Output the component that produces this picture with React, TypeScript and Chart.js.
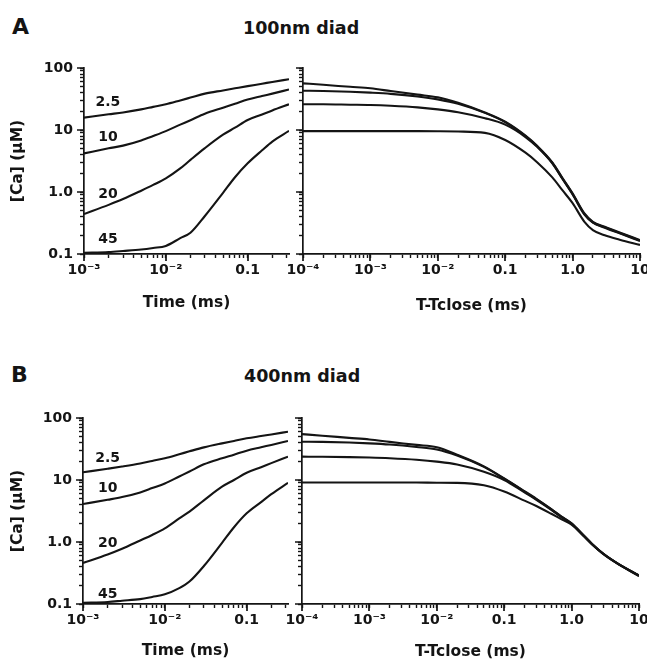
import React, { useEffect, useRef } from 'react';
import { Chart, registerables } from 'chart.js';

Chart.register(...registerables);

const INK = '#141414';
const FONT = "'DejaVu Sans', 'Liberation Sans', Arial, sans-serif";

// ---------- tick labels ----------
const concTickValues = [0.1, 1, 10, 100];
const concTickLabels = ['0.1', '1.0', '10', '100'];
const timeTickValues = [0.001, 0.01, 0.1];
const timeTickLabels = ['10⁻³', '10⁻²', '0.1'];
const closeTickValues = [0.0001, 0.001, 0.01, 0.1, 1, 10];
const closeTickLabels = ['10⁻⁴', '10⁻³', '10⁻²', '0.1', '1.0', '10'];

// ---------- series names (curve labels) ----------
const curveNames = ['2.5', '10', '20', '45'];

// ---------- left panels: Time (ms) ----------
const timeMs = [0.001, 0.002, 0.003, 0.005, 0.007, 0.01, 0.015, 0.02, 0.03, 0.05, 0.07, 0.1, 0.15, 0.2, 0.32];

const a100_25 = [15.8, 17.9, 19.2, 21.5, 23.6, 26, 30, 33.3, 38.6, 43.5, 47, 51, 55.8, 59.6, 66];
const a100_10 = [4.2, 5.06, 5.6, 6.8, 8.0, 9.6, 12.2, 14.4, 18.3, 22.9, 26.5, 31, 35.3, 38.6, 45];
const a100_20 = [0.44, 0.62, 0.77, 1.05, 1.3, 1.66, 2.4, 3.3, 5.1, 8.4, 10.9, 14.5, 17.8, 20.7, 26];
const a100_45 = [0.105, 0.108, 0.112, 0.118, 0.125, 0.135, 0.18, 0.22, 0.41, 0.97, 1.73, 2.9, 4.7, 6.5, 9.7];

const b400_25 = [13.3, 15.2, 16.5, 18.5, 20.3, 22.4, 26, 29, 33.6, 39, 42.7, 47, 51.2, 54.3, 60];
const b400_10 = [4.1, 4.8, 5.3, 6.3, 7.4, 8.8, 11.4, 13.7, 17.9, 22.4, 25.6, 29.7, 33.7, 36.8, 42.6];
const b400_20 = [0.46, 0.63, 0.78, 1.06, 1.3, 1.66, 2.4, 3.1, 4.7, 7.8, 10, 13.1, 16.1, 18.7, 23.8];
const b400_45 = [0.105, 0.108, 0.113, 0.12, 0.13, 0.143, 0.18, 0.23, 0.41, 0.97, 1.73, 2.9, 4.4, 5.9, 9.0];

// ---------- right panels: T-Tclose (ms) ----------
const tCloseMs = [0.0001, 0.0002, 0.0005, 0.001, 0.002, 0.005, 0.01, 0.02, 0.05, 0.1, 0.2, 0.3, 0.5, 0.7, 1, 1.5, 2, 3, 5, 10];

const aClose_25 = [56.6, 53.6, 49.7, 47, 42.5, 37.2, 33.7, 27.5, 19.2, 13.6, 8.1, 5.5, 3.0, 1.71, 0.95, 0.45, 0.33, 0.275, 0.222, 0.168];
const aClose_10 = [43, 42.5, 41.3, 40, 38.3, 34.8, 31.2, 26.5, 18.9, 13.4, 8.0, 5.4, 2.95, 1.68, 0.93, 0.44, 0.325, 0.27, 0.218, 0.165];
const aClose_20 = [26, 26, 25.6, 25.3, 24.6, 23.2, 21.5, 19.3, 15.5, 12.2, 7.7, 5.3, 2.9, 1.65, 0.91, 0.43, 0.32, 0.265, 0.215, 0.162];
const aClose_45 = [9.6, 9.6, 9.6, 9.6, 9.6, 9.6, 9.55, 9.45, 9.0, 6.9, 4.3, 3.0, 1.72, 1.08, 0.66, 0.33, 0.243, 0.2, 0.17, 0.14];

const bClose_25 = [55, 51.8, 47.8, 45, 41.2, 36.8, 33.7, 25.6, 16.6, 10.6, 6.6, 4.97, 3.4, 2.6, 2.0, 1.29, 0.94, 0.64, 0.44, 0.29];
const bClose_10 = [41.5, 41.2, 40.2, 39, 37.3, 34, 31, 24.8, 16.3, 10.5, 6.5, 4.9, 3.35, 2.57, 1.98, 1.28, 0.93, 0.64, 0.44, 0.288];
const bClose_20 = [23.8, 23.7, 23.4, 23, 22.4, 21.2, 19.8, 17.8, 13.6, 10, 6.3, 4.8, 3.3, 2.53, 1.95, 1.27, 0.93, 0.635, 0.437, 0.285];
const bClose_45 = [9.1, 9.1, 9.1, 9.1, 9.1, 9.1, 9.05, 9.0, 8.2, 6.5, 4.65, 3.8, 2.85, 2.34, 1.9, 1.25, 0.92, 0.63, 0.435, 0.282];

// curve-label anchors (data units)
const labelTimeA = 0.00196;
const labelConcA = [28, 7.7, 0.9, 0.17];
const labelTimeB = 0.002;
const labelConcB = [22, 7.4, 0.94, 0.141];

// ---------- helpers ----------
const MINOR_TICK = 4;
const MAJOR_TICK = 7;

function logTickValues(min: number, max: number): number[] {
  const out: number[] = [];
  for (let e = Math.floor(Math.log10(min)); e <= Math.ceil(Math.log10(max)); e++) {
    for (let k = 1; k <= 9; k++) {
      const v = Number((k * Math.pow(10, e)).toPrecision(8));
      if (v >= min * (1 - 1e-9) && v <= max * (1 + 1e-9)) out.push(v);
    }
  }
  return out;
}
function isDecade(v: number) {
  const l = Math.log10(v);
  return Math.abs(l - Math.round(l)) < 1e-6;
}
function lookupLabel(values: number[], labels: string[], v: number) {
  const i = values.findIndex((t) => Math.abs(Math.log10(t) - Math.log10(v)) < 1e-6);
  return i >= 0 ? labels[i] : '';
}

// extends major tick marks and writes the curve labels
const decorPlugin = {
  id: 'decor',
  afterDraw(chart: any, _args: any, opts: any) {
    const ctx = chart.ctx;
    const area = chart.chartArea;
    const xs = chart.scales.x;
    const ys = chart.scales.y;
    ctx.save();
    ctx.strokeStyle = INK;
    ctx.lineWidth = 1.7;
    ctx.beginPath();
    for (const t of xs.ticks) {
      if (!isDecade(t.value)) continue;
      const p = Math.round(xs.getPixelForValue(t.value));
      ctx.moveTo(p, area.bottom);
      ctx.lineTo(p, area.bottom + MAJOR_TICK);
    }
    for (const t of ys.ticks) {
      if (!isDecade(t.value)) continue;
      const p = Math.round(ys.getPixelForValue(t.value));
      ctx.moveTo(area.left, p);
      ctx.lineTo(area.left - MAJOR_TICK, p);
    }
    ctx.stroke();
    if (opts && opts.texts) {
      ctx.fillStyle = INK;
      ctx.font = `bold 14px ${FONT}`;
      ctx.textAlign = 'center';
      ctx.textBaseline = 'middle';
      opts.texts.forEach((txt: string, i: number) => {
        ctx.fillText(txt, xs.getPixelForValue(opts.x), ys.getPixelForValue(opts.ys[i]));
      });
    }
    ctx.restore();
  },
};

type Spec = {
  xVals: number[];
  series: number[][];
  xMin: number;
  xMax: number;
  xTickValues: number[];
  xTickLabels: string[];
  xTitle: string;
  yTitle: string | null;
  yWidth: number;
  xHeight: number;
  padding: { top: number; right: number; left: number; bottom: number };
  xTitlePad: number;
  labels: { x: number; ys: number[]; texts: string[] } | null;
};

function makeConfig(s: Spec): any {
  const yMin = 0.1;
  const yMax = 100;
  const gridOpts = {
    display: true,
    drawOnChartArea: false,
    drawTicks: true,
    tickLength: MINOR_TICK,
    tickWidth: 1.4,
    tickColor: INK,
  };
  return {
    type: 'line',
    data: {
      datasets: s.series.map((vals, i) => ({
        label: curveNames[i],
        data: s.xVals.map((x, j) => ({ x, y: vals[j] })),
        borderColor: INK,
        borderWidth: 2.1,
        pointRadius: 0,
        cubicInterpolationMode: 'monotone',
        fill: false,
      })),
    },
    options: {
      responsive: false,
      animation: false,
      events: [],
      layout: { padding: s.padding },
      plugins: {
        legend: { display: false },
        tooltip: { enabled: false },
        decor: s.labels || {},
      },
      scales: {
        x: {
          type: 'logarithmic',
          min: s.xMin,
          max: s.xMax,
          afterBuildTicks: (sc: any) => {
            sc.ticks = logTickValues(s.xMin, s.xMax).map((v) => ({ value: v }));
          },
          afterFit: (sc: any) => {
            sc.height = s.xHeight;
          },
          grid: gridOpts,
          border: { display: true, color: INK, width: 1.7 },
          ticks: {
            autoSkip: false,
            maxRotation: 0,
            minRotation: 0,
            padding: 8 - MINOR_TICK,
            color: INK,
            font: { family: FONT, size: 14, weight: 'bold' },
            callback: (v: number) => lookupLabel(s.xTickValues, s.xTickLabels, v),
          },
          title: {
            display: true,
            text: s.xTitle,
            color: INK,
            font: { family: FONT, size: 15.5, weight: 'bold' },
            padding: { top: 0, bottom: s.xTitlePad },
          },
        },
        y: {
          type: 'logarithmic',
          min: yMin,
          max: yMax,
          afterBuildTicks: (sc: any) => {
            sc.ticks = logTickValues(yMin, yMax).map((v) => ({ value: v }));
          },
          afterFit: (sc: any) => {
            sc.width = s.yWidth;
          },
          grid: gridOpts,
          border: { display: true, color: INK, width: 1.7 },
          ticks: {
            display: s.yTitle !== null,
            autoSkip: false,
            padding: 11 - MINOR_TICK,
            color: INK,
            font: { family: FONT, size: 14, weight: 'bold' },
            callback: (v: number) => lookupLabel(concTickValues, concTickLabels, v),
          },
          title: {
            display: s.yTitle !== null,
            text: s.yTitle || '',
            color: INK,
            font: { family: FONT, size: 15.5, weight: 'bold' },
            padding: { top: 9, bottom: 0 },
          },
        },
      },
    },
    plugins: [decorPlugin],
  };
}

const panels: { key: string; left: number; top: number; width: number; height: number; spec: Spec }[] = [
  {
    key: 'a-left', left: 0, top: 50, width: 300, height: 270,
    spec: {
      xVals: timeMs, series: [a100_25, a100_10, a100_20, a100_45], xMin: 0.001, xMax: 0.32,
      xTickValues: timeTickValues, xTickLabels: timeTickLabels, xTitle: 'Time (ms)', yTitle: '[Ca] (μM)',
      yWidth: 84, xHeight: 66, padding: { top: 18, right: 11, left: 0, bottom: 0 }, xTitlePad: 8,
      labels: { x: labelTimeA, ys: labelConcA, texts: curveNames },
    },
  },
  {
    key: 'a-right', left: 240, top: 50, width: 420, height: 270,
    spec: {
      xVals: tCloseMs, series: [aClose_25, aClose_10, aClose_20, aClose_45], xMin: 0.0001, xMax: 10,
      xTickValues: closeTickValues, xTickLabels: closeTickLabels, xTitle: 'T-Tclose (ms)', yTitle: null,
      yWidth: 63, xHeight: 66, padding: { top: 18, right: 20, left: 0, bottom: 0 }, xTitlePad: 5,
      labels: null,
    },
  },
  {
    key: 'b-left', left: 0, top: 400, width: 300, height: 263,
    spec: {
      xVals: timeMs, series: [b400_25, b400_10, b400_20, b400_45], xMin: 0.001, xMax: 0.32,
      xTickValues: timeTickValues, xTickLabels: timeTickLabels, xTitle: 'Time (ms)', yTitle: '[Ca] (μM)',
      yWidth: 83, xHeight: 59, padding: { top: 18, right: 12, left: 0, bottom: 0 }, xTitlePad: 3,
      labels: { x: labelTimeB, ys: labelConcB, texts: curveNames },
    },
  },
  {
    key: 'b-right', left: 240, top: 400, width: 420, height: 263,
    spec: {
      xVals: tCloseMs, series: [bClose_25, bClose_10, bClose_20, bClose_45], xMin: 0.0001, xMax: 10,
      xTickValues: closeTickValues, xTickLabels: closeTickLabels, xTitle: 'T-Tclose (ms)', yTitle: null,
      yWidth: 62, xHeight: 59, padding: { top: 18, right: 21, left: 0, bottom: 0 }, xTitlePad: 2,
      labels: null,
    },
  },
];

export default function App() {
  const refs = useRef<(HTMLCanvasElement | null)[]>([]);

  useEffect(() => {
    const charts: Chart[] = [];
    panels.forEach((p, i) => {
      const c = refs.current[i];
      if (c) charts.push(new Chart(c, makeConfig(p.spec)));
    });
    return () => charts.forEach((ch) => ch.destroy());
  }, []);

  const textStyle = (left: number, top: number, size: number): React.CSSProperties => ({
    position: 'absolute',
    left,
    top,
    fontFamily: FONT,
    fontWeight: 'bold',
    fontSize: size,
    lineHeight: `${size}px`,
    color: INK,
    whiteSpace: 'nowrap',
  });

  return (
    <div
      style={{
        position: 'absolute',
        left: 0,
        top: 0,
        width: 647,
        height: 663,
        overflow: 'hidden',
        background: '#ffffff',
      }}
    >
      {panels.map((p, i) => (
        <canvas
          key={p.key}
          ref={(el) => {
            refs.current[i] = el;
          }}
          width={p.width}
          height={p.height}
          style={{ position: 'absolute', left: p.left, top: p.top, width: p.width, height: p.height }}
        />
      ))}
      <div style={textStyle(12, 16, 22)}>A</div>
      <div style={textStyle(243, 20, 17.5)}>100nm diad</div>
      <div style={textStyle(11, 364, 22)}>B</div>
      <div style={textStyle(244, 368, 17.5)}>400nm diad</div>
    </div>
  );
}
